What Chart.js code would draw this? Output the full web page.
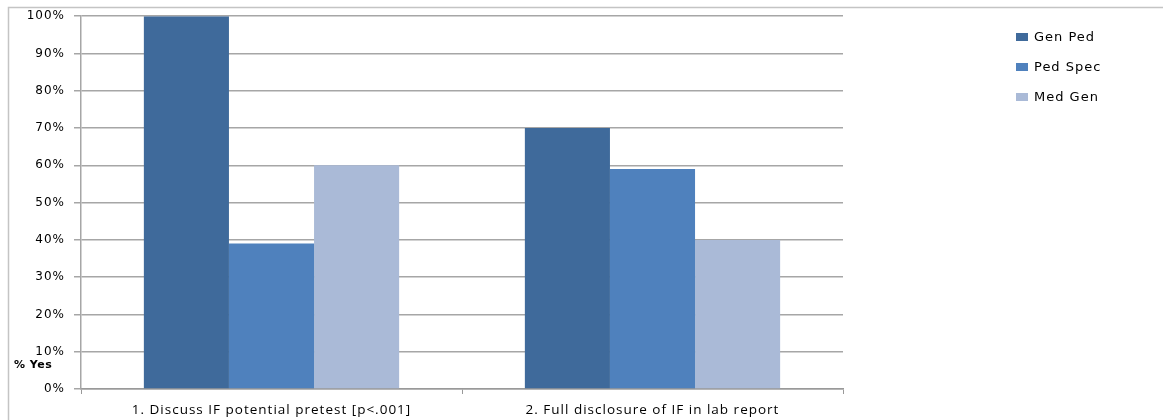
<!DOCTYPE html>
<html>
<head>
<meta charset="utf-8">
<script src="https://cdn.jsdelivr.net/npm/chart.js@4.4.0/dist/chart.umd.min.js"></script>
<style>
  html, body { margin: 0; padding: 0; background: #fff; }
  #wrap { position: relative; width: 1163px; height: 420px; }
</style>
</head>
<body>
<div id="wrap"><canvas id="chart" width="1163" height="420"></canvas></div>
<script>
// data
const categories = ['1. Discuss IF potential pretest [p<.001]', '2. Full disclosure of IF in lab report'];
const seriesNames = ['Gen Ped', 'Ped Spec', 'Med Gen'];
const genPed = [100, 70];
const pedSpec = [39, 59];
const medGen = [60, 40];
const seriesColors = ['#3f6a9b', '#4f81bd', '#aabad7'];

const values = [genPed, pedSpec, medGen];

// the original text looks stretched sideways, so space the letters a bit
const spacing = {
  id: 'spacing',
  beforeDraw(chart) {
    chart.ctx.letterSpacing = '1px';
  }
};

// frame, "% Yes" label and the legend on the right
const extras = {
  id: 'extras',
  afterDraw(chart) {
    const ctx = chart.ctx;
    ctx.save();
    ctx.strokeStyle = '#c4c4c4';
    ctx.lineWidth = 1.5;
    ctx.beginPath();
    ctx.moveTo(1163, 7.5);
    ctx.lineTo(8.5, 7.5);
    ctx.lineTo(8.5, 420);
    ctx.stroke();

    ctx.letterSpacing = '0.5px';
    ctx.fillStyle = '#000';
    ctx.font = 'bold 11px "DejaVu Sans"';
    ctx.textAlign = 'left';
    ctx.textBaseline = 'middle';
    ctx.fillText('% Yes', 14, 365);

    ctx.letterSpacing = '1px';
    ctx.font = '13px "DejaVu Sans"';
    chart.data.datasets.forEach((ds, i) => {
      const y = 37 + i * 30;
      ctx.fillStyle = ds.backgroundColor;
      ctx.fillRect(1016, y - 4, 12, 8);
      ctx.fillStyle = '#000';
      ctx.fillText(ds.label, 1034, y + 1);
    });
    ctx.restore();
  }
};

new Chart(document.getElementById('chart'), {
  type: 'bar',
  data: {
    labels: categories,
    datasets: seriesNames.map((name, i) => ({
      label: name,
      data: values[i],
      backgroundColor: seriesColors[i],
      borderWidth: 0,
      categoryPercentage: 0.67,
      barPercentage: 1.0
    }))
  },
  options: {
    responsive: false,
    animation: false,
    layout: { padding: { left: 0, top: 15, right: 320, bottom: 0 } },
    plugins: {
      legend: { display: false },
      tooltip: { enabled: false }
    },
    scales: {
      x: {
        afterFit(scale) { scale.height = 31; },
        grid: {
          display: true,
          drawOnChartArea: false,
          offset: true,
          tickLength: 5,
          color: '#999'
        },
        border: { color: '#999', width: 1.5 },
        ticks: {
          color: '#000',
          font: { family: '"Open Sans", "DejaVu Sans"', size: 13.5 },
          padding: 8,
          maxRotation: 0
        }
      },
      y: {
        min: 0,
        max: 100,
        afterFit(scale) { scale.width = 81; },
        grid: { color: '#a6a6a6', lineWidth: 1.5, tickLength: 7 },
        border: { color: '#a6a6a6', width: 1.5 },
        ticks: {
          stepSize: 10,
          color: '#000',
          padding: 9,
          font: { family: '"DejaVu Sans"', size: 12 },
          callback: v => v + '%'
        }
      }
    }
  },
  plugins: [spacing, extras]
});
</script>
</body>
</html>
